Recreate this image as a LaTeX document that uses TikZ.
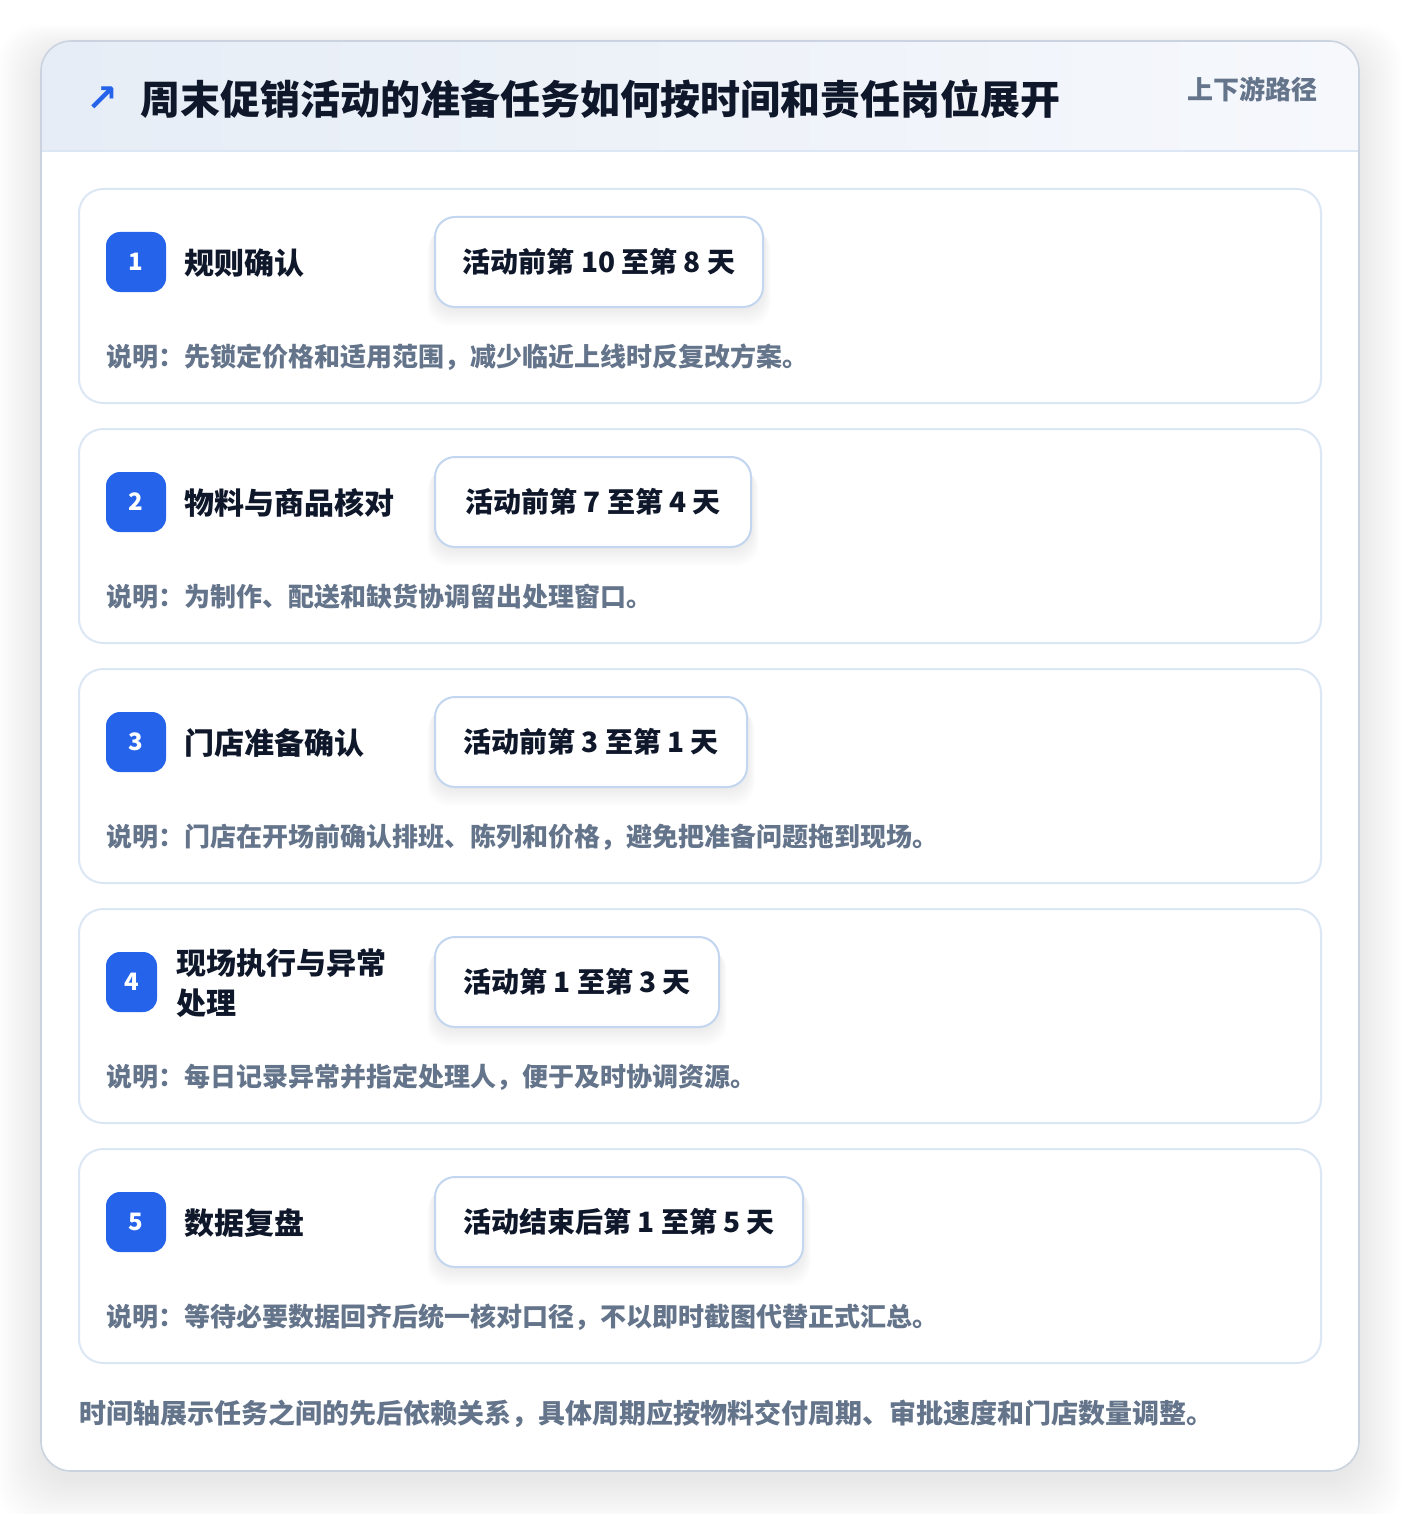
\documentclass[tikz,border=0pt]{standalone}
\usepackage{fontspec}
\setmainfont{Noto Sans CJK SC}
\newfontfamily\symfont{DejaVu Sans}
\definecolor{ink}{HTML}{0F172A}
\definecolor{muted}{HTML}{64748B}
\definecolor{blue}{HTML}{2563EB}
\definecolor{cardline}{HTML}{DCE7F5}
\definecolor{pillline}{HTML}{C3D6EF}
\definecolor{outerline}{HTML}{CAD3DF}
\definecolor{hdrL}{HTML}{E6EDF6}
\definecolor{hdrR}{HTML}{F6F8FC}
\definecolor{hdrline}{HTML}{DCE7F5}
\tikzset{
  card/.style={draw=cardline, line width=2pt, fill=white, rounded corners=24pt,
    minimum width=1242pt, minimum height=214pt, inner sep=0pt},
  badge/.style={fill=blue, rounded corners=14pt, minimum height=60pt, inner sep=0pt,
    text=white, font=\fontsize{24}{28}\selectfont\bfseries},
  tasktitle/.style={anchor=west, inner sep=0pt, text=ink, align=left,
    font=\fontsize{30}{40}\selectfont\bfseries},
  pill/.style={draw=pillline, line width=2pt, fill=white, rounded corners=20pt,
    minimum height=90pt, inner sep=0pt, text=ink,
    font=\fontsize{28}{32}\selectfont\bfseries},
  desc/.style={anchor=west, inner sep=0pt, text=muted,
    font=\fontsize{26}{30}\selectfont\bfseries},
}
% #1 y0, #2 number, #3 title, #4 pill right x, #5 pill text, #6 description, #7 badge width, #8 title x
\newcommand\taskcard[8]{%
  \node[card] (card#2) at (700,#1+107) {};
  \foreach \k in {1,...,10}{
    \fill[black, opacity=0.007, rounded corners=22pt]
      (435-\k*0.8,#1+30+\k*1.0) rectangle (#4+\k*0.8,#1+118+\k*1.9);
  }
  \node[pill, minimum width={(#4-435)*1pt}] (pill#2) at ({(435+#4)/2},#1+73) {#5};
  \node[badge, minimum width=#7pt] (badge#2) at ({106+#7/2},#1+73) {#2};
  \node[tasktitle] (title#2) at (#8,#1+74) {#3};
  \node[desc] (desc#2) at (106,#1+168) {#6};
}
\begin{document}
\begin{tikzpicture}[x=1pt,y=-1pt]
\useasboundingbox (0,0) rectangle (1400,1514);
\fill[white] (0,0) rectangle (1400,1514);
% outer shadow
\foreach \i in {0,2,...,44}{
  \fill[black, opacity=0.0045, rounded corners=40pt]
    (41-\i,51-\i*0.6) rectangle (1359+\i,1481+\i);
}
% outer card
\fill[white, rounded corners=30pt] (41,41) rectangle (1359,1471);
\begin{scope}
  \clip[rounded corners=30pt] (41,41) rectangle (1359,1471);
  \shade[left color=hdrL, right color=hdrR] (41,41) rectangle (1359,151);
\end{scope}
\draw[hdrline, line width=2pt] (42,151) -- (1358,151);
\draw[outerline, line width=1.6pt, rounded corners=30pt] (41,41) rectangle (1359,1471);
% header
\node[anchor=center, inner sep=0pt, text=blue, font=\symfont\bfseries\fontsize{38}{38}\selectfont] (icon) at (102,99) {↗};
\node[anchor=west, inner sep=0pt, text=ink, font=\fontsize{40}{48}\selectfont\bfseries] (title) at (140,99) {周末促销活动的准备任务如何按时间和责任岗位展开};
\node[anchor=east, inner sep=0pt, text=muted, font=\fontsize{26}{30}\selectfont\bfseries] (tag) at (1318,89) {上下游路径};
% cards
\taskcard{189}{1}{规则确认}{763}{活动前第 10 至第 8 天}{说明：先锁定价格和适用范围，减少临近上线时反复改方案。}{60}{184}
\taskcard{429}{2}{物料与商品核对}{751}{活动前第 7 至第 4 天}{说明：为制作、配送和缺货协调留出处理窗口。}{60}{184}
\taskcard{669}{3}{门店准备确认}{747}{活动前第 3 至第 1 天}{说明：门店在开场前确认排班、陈列和价格，避免把准备问题拖到现场。}{60}{184}
\taskcard{909}{4}{现场执行与异常\\处理}{719}{活动第 1 至第 3 天}{说明：每日记录异常并指定处理人，便于及时协调资源。}{51}{176}
\taskcard{1149}{5}{数据复盘}{803}{活动结束后第 1 至第 5 天}{说明：等待必要数据回齐后统一核对口径，不以即时截图代替正式汇总。}{60}{184}
% footer
\node[anchor=west, inner sep=0pt, text=muted, font=\fontsize{27}{30}\selectfont\bfseries] (foot) at (79,1414) {时间轴展示任务之间的先后依赖关系，具体周期应按物料交付周期、审批速度和门店数量调整。};
\end{tikzpicture}
\end{document}
